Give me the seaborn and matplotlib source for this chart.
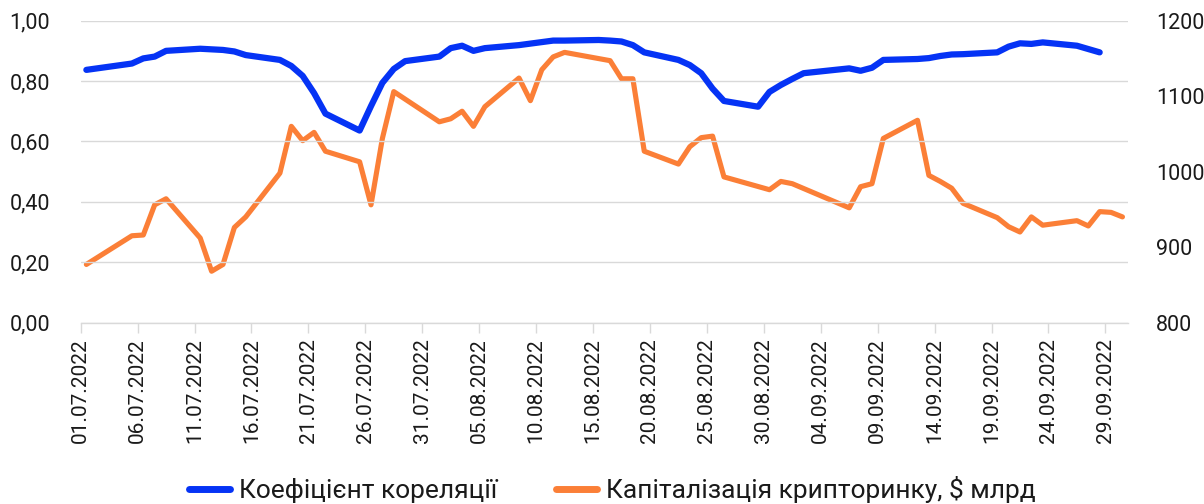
import matplotlib
matplotlib.use("Agg")
import matplotlib.pyplot as plt
import matplotlib.dates as mdates
from matplotlib.ticker import FuncFormatter, FixedLocator
from matplotlib.lines import Line2D
import seaborn as sns
import pandas as pd

# ---- data ----
corr_dates = ["2022-07-01", "2022-07-05", "2022-07-06", "2022-07-07", "2022-07-08",
              "2022-07-11", "2022-07-12", "2022-07-13", "2022-07-14", "2022-07-15",
              "2022-07-18", "2022-07-19", "2022-07-20", "2022-07-21", "2022-07-22",
              "2022-07-25", "2022-07-26", "2022-07-27", "2022-07-28", "2022-07-29",
              "2022-08-01", "2022-08-02", "2022-08-03", "2022-08-04", "2022-08-05",
              "2022-08-08", "2022-08-09", "2022-08-10", "2022-08-11", "2022-08-12",
              "2022-08-15", "2022-08-16", "2022-08-17", "2022-08-18", "2022-08-19",
              "2022-08-22", "2022-08-23", "2022-08-24", "2022-08-25", "2022-08-26",
              "2022-08-29", "2022-08-30", "2022-08-31", "2022-09-01", "2022-09-02",
              "2022-09-06", "2022-09-07", "2022-09-08", "2022-09-09",
              "2022-09-12", "2022-09-13", "2022-09-14", "2022-09-15", "2022-09-16",
              "2022-09-19", "2022-09-20", "2022-09-21", "2022-09-22", "2022-09-23",
              "2022-09-26", "2022-09-27", "2022-09-28"]
corr_values = [0.837, 0.858, 0.875, 0.881, 0.900,
               0.907, 0.905, 0.903, 0.898, 0.886,
               0.870, 0.850, 0.817, 0.760, 0.692,
               0.636, 0.717, 0.794, 0.840, 0.866,
               0.881, 0.909, 0.917, 0.900, 0.909,
               0.919, 0.924, 0.929, 0.934, 0.934,
               0.936, 0.934, 0.931, 0.919, 0.895,
               0.870, 0.853, 0.826, 0.775, 0.734,
               0.715, 0.764, 0.787, 0.807, 0.826,
               0.842, 0.834, 0.844, 0.870,
               0.873, 0.876, 0.883, 0.888, 0.889,
               0.895, 0.914, 0.925, 0.923, 0.928,
               0.917, 0.906, 0.895]

cap_dates = ["2022-07-01", "2022-07-05", "2022-07-06", "2022-07-07", "2022-07-08",
             "2022-07-11", "2022-07-12", "2022-07-13", "2022-07-14", "2022-07-15",
             "2022-07-18", "2022-07-19", "2022-07-20", "2022-07-21", "2022-07-22",
             "2022-07-25", "2022-07-26", "2022-07-27", "2022-07-28",
             "2022-08-01", "2022-08-02", "2022-08-03", "2022-08-04", "2022-08-05",
             "2022-08-08", "2022-08-09", "2022-08-10", "2022-08-11", "2022-08-12",
             "2022-08-16", "2022-08-17", "2022-08-18", "2022-08-19",
             "2022-08-22", "2022-08-23", "2022-08-24", "2022-08-25", "2022-08-26",
             "2022-08-30", "2022-08-31", "2022-09-01",
             "2022-09-06", "2022-09-07", "2022-09-08", "2022-09-09",
             "2022-09-12", "2022-09-13", "2022-09-14", "2022-09-15", "2022-09-16",
             "2022-09-19", "2022-09-20", "2022-09-21", "2022-09-22", "2022-09-23",
             "2022-09-26", "2022-09-27", "2022-09-28", "2022-09-29", "2022-09-30"]
cap_values = [877, 915, 916, 956, 964,
              912, 868, 877, 926, 940,
              998, 1060, 1041, 1052, 1027,
              1013, 956, 1044, 1106,
              1066, 1070, 1080, 1060, 1086,
              1124, 1094, 1135, 1152, 1158,
              1147, 1123, 1123, 1027,
              1010, 1033, 1045, 1047, 993,
              976, 987, 984,
              952, 980, 984, 1044,
              1068, 995, 987, 978, 958,
              939, 927, 920, 940, 929,
              935, 928, 947, 946, 940]

tick_dates = ["2022-07-01", "2022-07-06", "2022-07-11", "2022-07-16", "2022-07-21",
              "2022-07-26", "2022-07-31", "2022-08-05", "2022-08-10", "2022-08-15",
              "2022-08-20", "2022-08-25", "2022-08-30", "2022-09-04", "2022-09-09",
              "2022-09-14", "2022-09-19", "2022-09-24", "2022-09-29"]
left_ticks = [0.0, 0.2, 0.4, 0.6, 0.8, 1.0]
right_ticks = [800, 900, 1000, 1100, 1200]

corr_label = "Коефіцієнт кореляції"
cap_label = "Капіталізація крипторинку, $ млрд"

BLUE = "#0533f5"
ORANGE = "#fb7f37"
GRID = "#d9d9d9"
TXT = "#1a1a1a"

# ---- style ----
sns.set_theme(style="white")
plt.rcParams["font.family"] = ["Roboto", "DejaVu Sans"]

fig = plt.figure(figsize=(12.04, 5.04), dpi=100)
ax = fig.add_axes([0.067, 0.360, 0.870, 0.599])
ax2 = ax.twinx()

half_day = pd.Timedelta(hours=12)
df_corr = pd.DataFrame({"date": pd.to_datetime(corr_dates) + half_day, "v": corr_values})
df_cap = pd.DataFrame({"date": pd.to_datetime(cap_dates) + half_day, "v": cap_values})

sns.lineplot(data=df_cap, x="date", y="v", ax=ax2, color=ORANGE, lw=3.7,
             solid_capstyle="round", solid_joinstyle="round", legend=False)
sns.lineplot(data=df_corr, x="date", y="v", ax=ax, color=BLUE, lw=4.5,
             solid_capstyle="round", solid_joinstyle="round", legend=False)

# put blue axis on top
ax.set_zorder(ax2.get_zorder() + 1)
ax.patch.set_visible(False)

ax.set_ylim(0, 1.0)
ax2.set_ylim(800, 1200)
ax.set_xlim(pd.Timestamp("2022-07-01"), pd.Timestamp("2022-10-01"))

ax.yaxis.set_major_locator(FixedLocator(left_ticks))
ax.yaxis.set_major_formatter(FuncFormatter(lambda v, p: f"{v:.2f}".replace(".", ",")))
ax2.yaxis.set_major_locator(FixedLocator(right_ticks))
ax2.yaxis.set_major_formatter(FuncFormatter(lambda v, p: f"{int(round(v))}"))

tick_pos = mdates.date2num(pd.to_datetime(tick_dates))
ax.xaxis.set_major_locator(FixedLocator(tick_pos))
ax.set_xticklabels([pd.Timestamp(d).strftime("%d.%m.%Y") for d in tick_dates],
                   rotation=90, fontsize=15, color=TXT)

ax.grid(axis="y", color=GRID, lw=1.0)
ax.grid(axis="x", visible=False)
ax2.grid(False)

for a in (ax, ax2):
    for s in ("top", "left", "right"):
        a.spines[s].set_visible(False)
ax2.spines["bottom"].set_visible(False)
ax.spines["bottom"].set_color(GRID)
ax.spines["bottom"].set_linewidth(1.0)

ax.tick_params(axis="x", bottom=True, length=7, width=1.0, color=GRID, pad=4,
               labelsize=15, labelcolor=TXT)
ax.tick_params(axis="y", left=False, length=0, pad=22, labelsize=15.5, labelcolor=TXT)
ax2.tick_params(axis="y", right=False, length=0, pad=20, labelsize=15.5, labelcolor=TXT)
ax.set_xlabel("")
ax.set_ylabel("")
ax2.set_ylabel("")
ax2.set_xlabel("")

handles = [Line2D([0], [0], color=BLUE, lw=5.0, solid_capstyle="round"),
           Line2D([0], [0], color=ORANGE, lw=5.0, solid_capstyle="round")]
fig.legend(handles, [corr_label, cap_label], loc="center", ncol=2,
           frameon=False, fontsize=19, bbox_to_anchor=(0.5087, 0.028),
           handlelength=1.55, handletextpad=0.35, columnspacing=2.2,
           labelcolor=TXT)

fig.savefig("out.png", dpi=100)
